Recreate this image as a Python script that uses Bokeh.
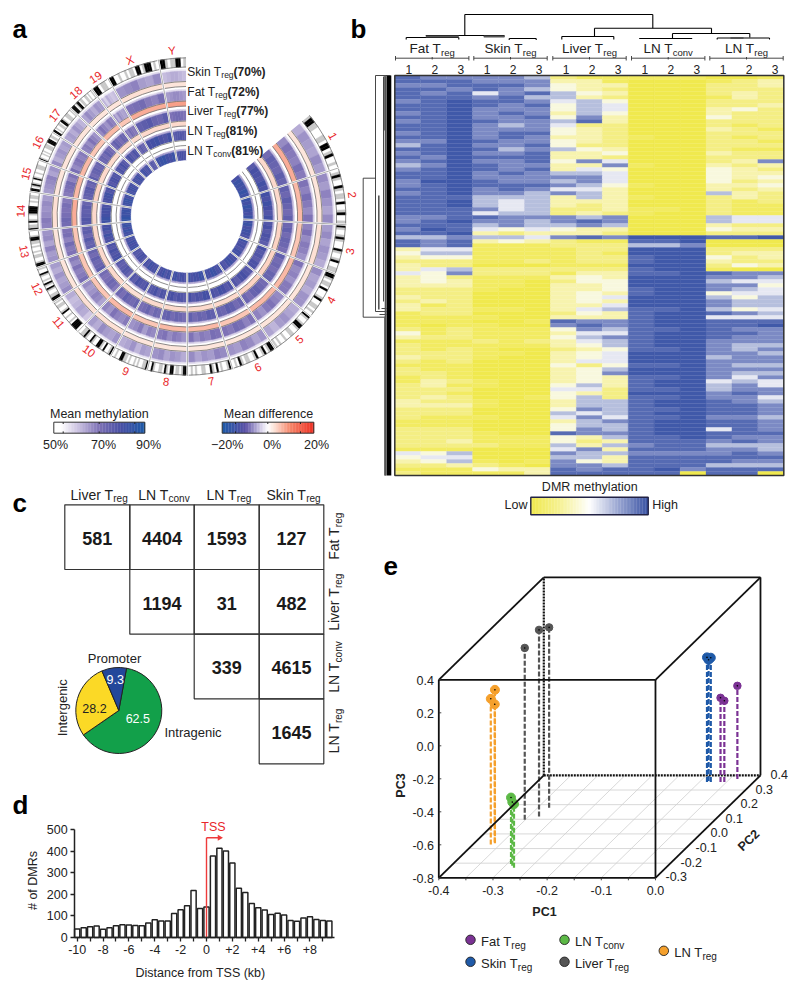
import math
import numpy as np
from bokeh.plotting import figure
from bokeh.models import Range1d, LinearAxis, FixedTicker
from bokeh.core.properties import value
from bokeh.embed import file_html
from bokeh.resources import INLINE

# ---------- panel a data ----------
CHROMS = ["1","2","3","4","5","6","7","8","9","10","11","12","13","14","15","16","17","18","19","X","Y"]
CHROM_LEN = [195,182,160,156,152,150,145,129,124,130,122,120,120,125,104,98,95,91,61,171,91]
SKIN_M = [65,66,65,65,64,66,66,65,64,65,62,65,66,67,66,65,64,65,61,66,62]
FAT_M  = [69,69,68,68,68,70,69,68,67,68,66,69,70,71,70,69,68,68,65,70,66]
LIVER_M= [74,74,73,73,73,74,74,73,72,73,71,74,75,76,75,74,73,73,70,75,71]
TREG_M = [79,80,78,78,78,79,79,78,78,78,76,79,80,81,80,79,78,78,75,80,77]
CONV_M = [82,82,81,80,80,81,81,80,80,80,78,81,82,83,82,81,80,80,77,82,79]
PROFILE = [
 [-2,1,0,-1,2,0],[1,-1,2,0,-2,1],[0,2,-1,1,0,-2],[2,-1,0,-2,1,1],[-1,0,2,1,-2,0],[0,-2,1,2,-1,0],
 [1,2,-1,0,-2,1],[-2,0,1,-1,2,1],[0,1,-2,2,0,-1],[1,-1,0,2,-2,0],[-2,1,2,0,-1,1],[2,0,-1,1,-2,0],
 [0,-1,2,-2,1,0],[1,2,0,-1,0,-2],[-1,0,1,2,-2,0],[2,-2,0,1,-1,0],[0,1,-1,2,0,-2],[-1,2,0,-2,1,0],
 [1,-2,2,0,-1,0],[0,1,2,-1,-2,1],[-1,0,1,1,0,-1]]
DIFF_SKIN = [2.5,2.5,3,2.5,2.5,2.5,2.5,2.5,2.5,3,3,2.5,2.5,3,2.5,2.5,2.5,2.5,2.5,3,2.5]
DIFF_FAT  = [7,6,5,6,6,5,6,6,5,6,5,5,5,7,6,6,5,6,5,7,8]
DIFF_LIV  = [3.5,3.5,4,4,4,3.5,3.5,3.5,3.5,3,3.5,3.5,3.5,3.5,4,3.5,3.5,3.5,3.5,3.5,3.5]
DIFF_TREG = [0,0,0,0,0,0,0,0,0,0,0,0,0,0,0,0,0,0,0,0,0]
IDEO = ["gkkggwwwggwkkwgkwwgw","wgkgwwkgwggwkwwgkwwg","kgwwgkgwwwkgwwgkwwgg","kkgwggwkwwwgkwwggwgw","kgwwgkkgwwggwwgwwgwg",
 "kkgwkgwwkgwwggwgkwgw","kgwwgwkwgkwwggwwgwgw","kkgwggwkkwgkwggwwgkw","kggwwgwgwwgwggkkwwgw","kgwwkwgkkwwgkwwgkggw",
 "wkkkkwgwwgwwkgwwggwg","kkggwwgkwgkwgwwgkwwg","kkgwwggwgwwgwggkkgww","kggwkgwwgkkkkwwgwggw","kkwgkgwwkgwwgwwgggww",
 "kgwwgwgwwgggwkkkwggw","kkwgwwggwkkgwwgggwwg","kkkwgkkwggwwggwgwwg","kkwggw","kkwwgwwgwggwkkwgkkkwgw","kkgwggkkwg"]
METH_TICKS = [50,70,90]
DIFF_TICKS = [-20,0,20]
SAMPLE_LABELS = [("Skin ","70%"),("Fat ","72%"),("Liver ","77%"),("LN ","81%"),("LN ","81%")]

# ---------- panel b data: one row per string; groups Fat, Skin, Liver, LN Tconv, LN Treg ----------
GROUPS_B = [("Fat T","reg"),("Skin T","reg"),("Liver T","reg"),("LN T","conv"),("LN T","reg")]
HEAT = """
877 776 211 111 001
888 777 331 000 123
778 887 433 000 223
887 876 432 000 222
878 578 643 000 232
888 786 632 000 132
789 887 564 000 222
889 878 465 000 223
889 777 465 000 342
789 787 364 000 322
889 778 473 000 422
789 877 683 000 222
889 767 522 000 212
889 777 432 000 321
789 788 432 000 222
889 787 332 100 212
779 877 432 000 221
689 778 422 000 222
889 867 643 000 211
789 778 334 000 322
879 888 332 000 222
789 778 475 000 237
679 877 337 100 323
789 878 354 000 432
889 787 665 000 433
889 777 775 000 434
799 877 675 000 423
789 888 764 100 334
889 787 553 000 323
789 776 763 000 632
888 666 363 100 232
889 656 333 000 212
889 656 323 000 211
888 756 223 110 211
888 566 232 100 211
778 877 767 000 655
789 776 787 000 655
888 676 676 000 322
798 545 433 000 433
889 323 332 000 222
667 665 787 999 889
878 343 211 889 000
878 111 222 667 000
355 111 122 999 222
466 111 121 999 233
344 111 122 899 423
222 112 122 899 322
322 000 111 999 243
356 222 222 899 100
547 222 133 889 877
342 111 343 999 776
343 110 244 999 655
333 110 334 999 774
222 100 334 899 765
222 000 343 899 455
322 000 345 999 646
232 000 343 999 766
312 000 335 999 766
322 110 356 889 645
122 000 243 899 876
111 100 333 899 555
111 001 877 899 888
101 100 787 899 889
212 111 476 889 877
412 111 355 899 887
322 111 467 899 877
111 212 356 899 777
211 111 346 899 766
212 100 234 889 767
222 110 345 999 776
322 100 345 999 677
212 000 355 999 777
111 000 424 889 766
211 000 346 999 777
221 000 347 999 766
121 000 343 889 757
132 100 343 899 565
231 100 463 899 675
222 000 552 889 677
221 000 432 999 787
232 001 462 889 775
322 100 366 899 876
333 100 366 899 887
222 000 476 889 887
222 000 656 899 887
211 100 575 889 776
111 000 367 899 887
111 000 466 899 887
222 000 476 899 587
222 100 877 899 888
222 111 436 889 877
223 111 423 888 787
222 211 636 788 666
111 000 573 888 776
546 000 766 777 787
455 000 663 888 888
346 101 743 888 877
223 210 776 888 666
111 433 878 897 888
211 113 888 880 880
"""
HEAT_ROWS = [r.replace(" ", "") for r in HEAT.strip().splitlines()]
HEAT_COLORS = ["#F0E94E","#F2EB62","#F4EE84","#F7F3AE","#F8F8DE","#E6E8F2","#B6BFDD","#7C8AC4","#566BB3","#4059A9"]

# ---------- panel c data ----------
C_TOP = [("Liver T","reg"),("LN T","conv"),("LN T","reg"),("Skin T","reg")]
C_RIGHT = [("Fat T","reg"),("Liver T","reg"),("LN T","conv"),("LN T","reg")]
C_VALUES = [[581,4404,1593,127],[None,1194,31,482],[None,None,339,4615],[None,None,None,1645]]
PIE_NAMES = ["Intragenic","Intergenic","Promoter"]
PIE_VALUES = [62.5,28.2,9.3]
PIE_COLORS = ["#12A04A","#FBD926","#23479A"]

# ---------- panel d data ----------
D_X = [-10,-9.5,-9,-8.5,-8,-7.5,-7,-6.5,-6,-5.5,-5,-4.5,-4,-3.5,-3,-2.5,-2,-1.5,-1,-0.5,0,0.5,1,1.5,2,2.5,3,3.5,4,4.5,5,5.5,6,6.5,7,7.5,8,8.5,9,9.5]
D_Y = [40,45,50,53,38,45,54,59,58,56,55,67,82,77,77,112,129,147,218,135,142,378,414,402,346,229,209,158,138,128,107,113,105,79,76,90,96,84,79,77]
D_YTICKS = [0,100,200,300,400,500]
D_XTICKS = [-10,-8,-6,-4,-2,0,2,4,6,8]
D_XLABELS = {-10:"-10",-8:"-8",-6:"-6",-4:"-4",-2:"-2",0:"0",2:"+2",4:"+4",6:"+6",8:"+8"}

# ---------- panel e data ----------
E_PC1 = {"Fat":[-0.061,-0.054,-0.036],"Skin":[-0.086,-0.079,-0.085],"LN Tconv":[-0.293,-0.280,-0.287],"Liver":[-0.351,-0.331,-0.329],"LN Treg":[-0.362,-0.367,-0.364]}
E_PC2 = {"Fat":[0.354,0.354,0.376],"Skin":[0.354,0.354,0.361],"LN Tconv":[-0.205,-0.232,-0.218],"Liver":[0.096,0.119,0.179],"LN Treg":[-0.063,-0.0725,-0.057]}
E_PC3 = {"Fat":[-0.289,-0.307,-0.236],"Skin":[-0.044,-0.046,-0.065],"LN Tconv":[-0.398,-0.414,-0.414],"Liver":[0.242,0.331,0.293],"LN Treg":[0.129,0.083,0.036]}
E_COLORS = {"Fat":"#7B3294","Skin":"#1F5AA8","LN Tconv":"#5CB946","Liver":"#555555","LN Treg":"#F5A02C"}
PC1_TICKS = [-0.4,-0.3,-0.2,-0.1,0.0]
PC2_TICKS = [-0.3,-0.2,-0.1,0.0,0.1,0.2,0.3,0.4]
PC3_TICKS = [0.4,0.2,0.0,-0.2,-0.4,-0.6,-0.8]

# ---------- canvas ----------
FONT = "Liberation Sans"
p = figure(width=800, height=992, output_backend="svg", toolbar_location=None,
           x_range=Range1d(0, 800), y_range=Range1d(992, 0),
           x_axis_type=None, y_axis_type=None,
           min_border=0, min_border_left=0, min_border_right=0, min_border_top=0, min_border_bottom=0)
p.outline_line_color = None
p.xgrid.visible = False
p.ygrid.visible = False
p.background_fill_color = "white"
p.border_fill_color = "white"

W = {' ':.278,'T':.611,'F':.611,'a':.556,'t':.278,'i':.222,'L':.556,'N':.722,'v':.5,'e':.556,'r':.333,'S':.667,'k':.5,'n':.556,
     'o':.556,'c':.5,'g':.556,'(':.333,')':.333,'%':.889}
def tw(s, size, bold=False):
    return sum(W.get(c, .556) for c in s) * size

def txt(x, y, s, size=12, color="#222222", bold=False, align="left", angle=0.0, base="middle"):
    p.text([x], [y], text=[s], text_font=value(FONT), text_font_size=f"{size}px", text_color=color,
           text_align=align, text_baseline=base, angle=angle,
           text_font_style="bold" if bold else "normal")

def lab(x, y, main, sub, tail=None, size=12, subsize=8, angle=0.0, center=False, color="#222222"):
    """Main text, subscript and an optional bold tail, laid along the rotated baseline."""
    total = tw(main, size) + tw(sub, subsize) + (tw(tail, size) if tail else 0)
    ca, sa = math.cos(angle), math.sin(angle)
    if center:
        x -= ca * total / 2
        y += sa * total / 2
    txt(x, y, main, size, color, angle=angle)
    d = tw(main, size)
    dn = size * .3
    txt(x + ca*d + sa*dn, y - sa*d + ca*dn, sub, subsize, color, angle=angle)
    if tail:
        d += tw(sub, subsize)
        txt(x + ca*d, y - sa*d, tail, size, color, bold=True, angle=angle)

def seg(coords, color="black", width=1.0, dash="solid"):
    xs0 = [c[0] for c in coords]; ys0 = [c[1] for c in coords]
    xs1 = [c[2] for c in coords]; ys1 = [c[3] for c in coords]
    p.segment(xs0, ys0, xs1, ys1, line_color=color, line_width=width, line_dash=dash)

def lerp_colors(stops, v):
    xs = [s[0] for s in stops]
    r = np.interp(v, xs, [int(s[1][1:3], 16) for s in stops])
    g = np.interp(v, xs, [int(s[1][3:5], 16) for s in stops])
    b = np.interp(v, xs, [int(s[1][5:7], 16) for s in stops])
    return "#%02x%02x%02x" % (int(r), int(g), int(b))

for letter, x, y in [("a",12,28),("b",350,28),("c",12,502),("d",12,804),("e",383,565)]:
    txt(x, y, letter, 26, "black", bold=True)

# ---------- panel a ----------
CX, CY = 186.6, 216.0
METH_STOPS = [(50,"#ffffff"),(53,"#ffffff"),(60,"#cfc6e3"),(70,"#7e72b6"),(80,"#474fa4"),(90,"#1f5aa8")]
DIFF_STOPS = [(-20,"#1f5aa8"),(-10,"#5a50a5"),(-3,"#d8d2ea"),(0,"#ffffff"),(3,"#fde0d4"),(10,"#f6866a"),(20,"#ee3124")]
START, SPAN, PAD = 50.0, 310.0, 0.35
total_len = sum(CHROM_LEN)
bounds = [START]
for L in CHROM_LEN:
    bounds.append(bounds[-1] + SPAN * L / total_len)

def to_rad(th):
    return math.radians(90.0 - th)

TRACKS = [(135.5,145.5,SKIN_M),(116,125.5,FAT_M),(96,105.5,LIVER_M),(76.5,85.5,TREG_M),(56.5,65.5,CONV_M)]
DIFFS = [(130,135,DIFF_SKIN),(110.5,115.5,DIFF_FAT),(90.5,95.5,DIFF_LIV),(71,76,DIFF_TREG)]

wx = {"i":[], "o":[], "s":[], "e":[], "c":[]}
def add(i_r, o_r, t0, t1, c):
    wx["i"].append(i_r); wx["o"].append(o_r); wx["s"].append(to_rad(t1)); wx["e"].append(to_rad(t0)); wx["c"].append(c)

for ci in range(len(CHROMS)):
    a0, a1 = bounds[ci] + PAD, bounds[ci+1] - PAD
    prof = PROFILE[ci]
    for r0, r1, means in TRACKS:
        n = len(prof)
        for b in range(n):
            t0 = a0 + (a1-a0)*b/n
            t1 = a0 + (a1-a0)*(b+1)/n
            v = means[ci] + prof[b]
            add(r1, r1+1.8, t0, t1, lerp_colors(METH_STOPS, 50 + (v-50)*.45))
            add(r0, r1, t0, t1, lerp_colors(METH_STOPS, v))
    for r0, r1, vals in DIFFS:
        add(r0, r1, a0, a1, lerp_colors(DIFF_STOPS, vals[ci]))
    bands = IDEO[ci]
    for b, ch in enumerate(bands):
        t0 = a0 + (a1-a0)*b/len(bands)
        t1 = a0 + (a1-a0)*(b+1)/len(bands)
        add(149.5, 158.7, t0, t1, {"k":"#000000","g":"#c8c8c8","w":"#ffffff"}[ch])
p.annular_wedge([CX]*len(wx["i"]), [CY]*len(wx["i"]), inner_radius=wx["i"], outer_radius=wx["o"],
                start_angle=wx["s"], end_angle=wx["e"], fill_color=wx["c"], line_color=wx["c"], line_width=0.5)

# outlines of the difference rings and the ideogram
for ci in range(len(CHROMS)):
    a0, a1 = bounds[ci] + PAD, bounds[ci+1] - PAD
    for r in [130,135,110.5,115.5,90.5,95.5,71,76,149.5,158.7]:
        p.arc([CX],[CY],radius=[r],start_angle=[to_rad(a1)],end_angle=[to_rad(a0)],line_color="#6e6e6e",line_width=0.8)
# chromosome separators
sep_w = []
for th in bounds:
    ca, sa = math.sin(math.radians(th)), -math.cos(math.radians(th))
    sep_w.append((CX+ca*56,CY+sa*56,CX+ca*159.5,CY+sa*159.5))
seg(sep_w, "white", 2.0)
seg(sep_w[1:-1], "#8a8a8a", 0.7)

# chromosome names
for ci, name in enumerate(CHROMS):
    mid = (bounds[ci] + bounds[ci+1]) / 2
    x = CX + 166.5*math.sin(math.radians(mid))
    y = CY - 166.5*math.cos(math.radians(mid))
    ang = -mid if (mid < 90 or mid > 270) else 180 - mid
    txt(x, y, name, 11.5, "#E8262A", align="center", angle=math.radians(ang))

# sample labels
for (main, pct), y, sub in zip(SAMPLE_LABELS, [71,91,110,130,150], ["reg","reg","reg","reg","conv"]):
    lab(186.8, y, main + "T", sub, f"({pct})", size=12, subsize=8.5)

# colour keys
def colorbar(x0, x1, y0, y1, stops, lo, hi, n=60, border="#333333", bw=1.0):
    vals = np.linspace(lo, hi, n)
    w = (x1-x0)/n
    ls = [x0+i*w for i in range(n)]
    p.quad(left=ls, right=[l+w+.3 for l in ls], top=[y0]*n, bottom=[y1]*n,
           fill_color=[lerp_colors(stops, v) for v in vals], line_color=None)
    p.quad(left=[x0], right=[x1], top=[y0], bottom=[y1], fill_color=None, line_color=border, line_width=bw)

colorbar(53.3,144.3,421.7,432.7,METH_STOPS,50,90)
colorbar(221.7,313.3,421.7,432.7,DIFF_STOPS,-20,20)
seg([(x,421.7,x,423.5) for x in [62.7,98.7,134.3,235,267.3,300]] + [(x,430.9,x,432.7) for x in [62.7,98.7,134.3,235,267.3,300]], "#222222", 1)
txt(98.8, 413, "Mean methylation", 12.5, align="center")
txt(268, 413, "Mean difference", 12.5, align="center")
for t, x in zip(METH_TICKS, [55,103,148]):
    txt(x, 444, f"{t}%", 12.5, align="center")
for t, x in zip(DIFF_TICKS, [226.7,271.7,316]):
    txt(x, 444, ("\u2212" if t < 0 else "") + f"{abs(t)}%", 12.5, align="center")

# ---------- panel b ----------
HX0, HX1, HY0, HY1 = 394.3, 783.3, 75.0, 475.0
nr, nc = len(HEAT_ROWS), 15
cw, rh = (HX1-HX0)/nc, (HY1-HY0)/nr
l, r, t, b, c = [], [], [], [], []
for ri, row in enumerate(HEAT_ROWS):
    for ci in range(nc):
        l.append(HX0+ci*cw); r.append(HX0+(ci+1)*cw)
        t.append(HY0+ri*rh); b.append(HY0+(ri+1)*rh)
        c.append(HEAT_COLORS[int(row[ci])])
p.quad(left=l, right=r, top=t, bottom=b, fill_color=c, line_color=c, line_width=0.3)
p.quad(left=[HX0], right=[HX1], top=[HY0], bottom=[HY1], fill_color=None, line_color="#333333", line_width=1.5)

# column dendrogram
seg([(464.3,14,652.3,14),(464.3,14,464.3,35),(652.3,14,652.3,27.7),
     (425.3,35,504,35),(405.7,37,458.3,37),(405.7,37,405.7,39),(458.3,37,458.3,39),
     (483.3,36,504,36),(508.7,38,535.7,38),(508.7,38,508.7,39.5),(535.7,38,535.7,39.5),
     (594,27.7,711,27.7),(594,27.7,594,36),(561.3,36,613.3,36),(561.3,36,561.3,39),(613.3,36,613.3,39),
     (711,27.7,711,33),(672,33,749.3,33),(672,33,672,38),(749.3,33,749.3,37),
     (638.7,38,691.7,38),(716.7,37.5,769,37.5),(716.7,37.5,716.7,39),(769,37.5,769,39)], "black", 1.1)
seg([(425.3,36,458.3,36),(483.3,36,504,36),(730,37.5,743,37.5)], "#555555", 2)
# group brackets, names, replicate numbers
GX = [395.0,473.3,552.3,631.0,709.3]
for (main, sub), gx in zip(GROUPS_B, GX):
    seg([(gx,57.7,gx+73.4,57.7),(gx,55.5,gx,60),(gx+73.4,55.5,gx+73.4,60),(gx+36.7,56.5,gx+36.7,59)], "#333333", 0.9)
    lab(gx+36.7, 47.7, main, sub, size=13.5, subsize=9.5, center=True)
    for i, d in enumerate([13.3,39.3,65.3]):
        txt(gx+d, 68.5, str(i+1), 12, align="center")

# row dendrogram
p.quad(left=[386], right=[390.8], top=[75], bottom=[475], fill_color="black", line_color=None)
seg([(375,75,390,75),(375,75,375,311),(383,76,383,301),(362.7,177.7,375,177.7),(362.7,177.7,362.7,316.7),(362.7,316.7,384,316.7),
     (375,311,386,311),(381,308,386,308),(379,314,386,314)], "#333333", 0.9)
seg([(378.3,195,378.3,309),(384.5,75,384.5,130),(384.5,316,384.5,475),(385,76,385,475)], "#555555", 1.6)

# colour key
HEAT_STOPS = [(0,"#F0E94E"),(.25,"#F6F296"),(.5,"#FFFFFF"),(.75,"#9AA6D2"),(1,"#3C55A5")]
colorbar(530.3,647.7,496.7,514.3,HEAT_STOPS,0,1,n=80,border="#222244",bw=1.4)
txt(589.3, 486.7, "DMR methylation", 12.5, align="center")
txt(527, 504.5, "Low", 12.5, align="right")
txt(651.7, 504.5, "High", 12.5)

# ---------- panel c ----------
CXS = [64.3,129.3,193.7,258.7,323.3]
CYS = [504.3,569,633.7,698.3,763.3]
for ri, row in enumerate(C_VALUES):
    for ci, v in enumerate(row):
        if v is None:
            continue
        p.quad(left=[CXS[ci]], right=[CXS[ci+1]], top=[CYS[ri]], bottom=[CYS[ri+1]], fill_color=None, line_color="#333333", line_width=1.2)
        txt((CXS[ci]+CXS[ci+1])/2, (CYS[ri]+CYS[ri+1])/2+1.2, str(v), 18, "#1a1a1a", bold=True, align="center")
for (main, sub), x in zip(C_TOP, [70,137.7,206,266]):
    lab(x, 494, main, sub, size=14, subsize=10)
for (main, sub), y in zip(C_RIGHT, [535.8,601.7,666.5,730.5]):
    lab(333.5, y, main, sub, size=14, subsize=10, angle=math.pi/2, center=True)

# pie
PX, PY, PR = 118.3, 710.0, 43.0
cum = 10.4
s_a, e_a = [], []
for v in PIE_VALUES:
    th1 = cum + v/100*360
    s_a.append(to_rad(th1)); e_a.append(to_rad(cum))
    cum = th1
p.wedge([PX]*3, [PY]*3, radius=PR, start_angle=s_a, end_angle=e_a, fill_color=PIE_COLORS, line_color="#222222", line_width=1)
txt(114.7, 679, f"{PIE_VALUES[2]}", 12.5, "white", align="center")
txt(94, 707.7, f"{PIE_VALUES[1]}", 12.5, "#222222", align="center")
txt(137.3, 718.3, f"{PIE_VALUES[0]}", 12.5, "white", align="center")
txt(114, 658.3, PIE_NAMES[2], 13, align="center")
txt(164, 732.3, PIE_NAMES[0], 13)
txt(62.3, 707.3, PIE_NAMES[1], 13, align="center", angle=math.pi/2)

# ---------- panel d: own scales and real axes ----------
DX_0, DX_K, DY_0, DY_K = 206.0, 12.93, 937.0, 0.2154
p.extra_x_ranges["d"] = Range1d((0-DX_0)/DX_K, (800-DX_0)/DX_K)
p.extra_y_ranges["d"] = Range1d((DY_0-992)/DY_K, (DY_0-0)/DY_K)
p.vbar(x=D_X, top=D_Y, bottom=0, width=0.4, fill_color="white", line_color="#222222", line_width=1.5,
       x_range_name="d", y_range_name="d")
xax = LinearAxis(x_range_name="d", y_range_name="d", fixed_location=0,
                 ticker=FixedTicker(ticks=D_XTICKS, minor_ticks=[v+1 for v in D_XTICKS]), bounds=(-10.2, 9.9))
xax.major_label_overrides = D_XLABELS
yax = LinearAxis(x_range_name="d", y_range_name="d", fixed_location=-10.2,
                 ticker=FixedTicker(ticks=D_YTICKS), bounds=(0, 500))
for ax in (xax, yax):
    ax.axis_line_color = "#222222"; ax.axis_line_width = 1.5
    ax.major_tick_line_color = "#222222"; ax.major_tick_line_width = 1.3
    ax.major_tick_in = 0; ax.major_tick_out = 4
    ax.minor_tick_in = 0; ax.minor_tick_out = 4
    ax.minor_tick_line_color = "#222222"; ax.minor_tick_line_width = 1.3
    ax.major_label_text_font = FONT; ax.major_label_text_font_size = "12.5px"
    ax.major_label_text_color = "#222222"; ax.major_label_standoff = 3
p.add_layout(xax, "below")
p.add_layout(yax, "left")
txt(32.3, 880, "# of DMRs", 12.5, align="center", angle=math.pi/2)
txt(200, 972, "Distance from TSS (kb)", 12.5, align="center")
txt(213, 826.7, "TSS", 12.5, "#E8262A", align="center")
seg([(206,937,206,837.3),(206,837.3,218,837.3)], "#EE3B3B", 1.4)
p.scatter([219], [837.3], marker="triangle", size=6, angle=-math.pi/2, fill_color="#EE3B3B", line_color=None)

# ---------- panel e: projected 3-D box ----------
E_X0, E_Y0 = 438.3, 877.3
K1, K2X, K2Y, K3 = 541.7, 150.0, 146.3, 165.0
def proj(a, b, c):
    return E_X0 + (a+.4)*K1 + (b+.3)*K2X, E_Y0 - (c+.8)*K3 - (b+.3)*K2Y
def pseg(a, b):
    return proj(*a) + proj(*b)
# floor grid
seg([pseg((-.4,v,-.8),(0,v,-.8)) for v in PC2_TICKS[1:-1]] +
    [pseg((v,-.3,-.8),(v,.4,-.8)) for v in np.arange(-.35,0,.05)], "#CFCFCF", 0.8)
# dotted back edges
seg([pseg((-.4,.4,-.8),(-.4,.4,.4)), pseg((-.4,.4,-.8),(0,.4,-.8))], "#111111", 2.2, "2 1")
# stems and points
for name in ["LN Treg","Liver","LN Tconv","Fat","Skin"]:
    col = E_COLORS[name]
    xs, ys = [], []
    for a, b, c in zip(E_PC1[name], E_PC2[name], E_PC3[name]):
        fx, fy = proj(a, b, -.8)
        tx, ty = proj(a, b, c)
        p.line([fx, tx], [fy, ty], line_color=col, line_width=2.2, line_dash="5 2")
        xs.append(tx); ys.append(ty)
    p.scatter(xs, ys, size=7.5 if name in ("Liver","Fat") else 9, fill_color=col, line_color=col)
    p.scatter(xs, ys, size=1.6, fill_color="black", line_color=None)
# box edges
seg([pseg((-.4,-.3,-.8),(0,-.3,-.8)), pseg((-.4,-.3,.4),(0,-.3,.4)), pseg((-.4,-.3,-.8),(-.4,-.3,.4)), pseg((0,-.3,-.8),(0,-.3,.4)),
     pseg((-.4,.4,.4),(0,.4,.4)), pseg((0,.4,-.8),(0,.4,.4)), pseg((-.4,-.3,.4),(-.4,.4,.4)), pseg((0,-.3,.4),(0,.4,.4)),
     pseg((-.4,-.3,-.8),(-.4,.4,-.8)), pseg((0,-.3,-.8),(0,.4,-.8))], "#111111", 1.8)
# ticks
seg([(proj(v,-.3,-.8)[0], E_Y0, proj(v,-.3,-.8)[0], E_Y0+2.5) for v in np.arange(-.4,.001,.05)], "#333333", 0.9)
seg([(E_X0, proj(-.4,-.3,v)[1], E_X0+2.5, proj(-.4,-.3,v)[1]) for v in PC3_TICKS], "#333333", 0.9)
for v in PC1_TICKS:
    x, _ = proj(v,-.3,-.8)
    txt(x, 890, f"{v:.1f}", 12.5, align="center")
for v in PC3_TICKS:
    _, y = proj(-.4,-.3,v)
    txt(433.5, y+1, f"{v:.1f}", 12.5, align="right")
for v in PC2_TICKS:
    x, y = proj(0, v, -.8)
    txt(x+10, y-1, f"{v:.1f}", 12.5)
txt(544, 911, "PC1", 12.5, bold=True, align="center")
txt(400.7, 785, "PC3", 12.5, bold=True, align="center", angle=math.pi/2)
txt(748.3, 840, "PC2", 12.5, bold=True, align="center", angle=math.radians(44))
# legend
for name, main, sub, cx, cy in [("Fat","Fat T","reg",470,939.3),("Skin","Skin T","reg",470,961.3),
                                ("LN Tconv","LN T","conv",564,939.3),("Liver","Liver T","reg",564,961.3),
                                ("LN Treg","LN T","reg",663.3,950.3)]:
    p.scatter([cx],[cy],size=9.5,fill_color=E_COLORS[name],line_color="#222222",line_width=0.9)
    lab(cx+10.5, cy+1.5, main, sub, size=13, subsize=10)

open("out.html", "w").write(file_html(p, INLINE))
